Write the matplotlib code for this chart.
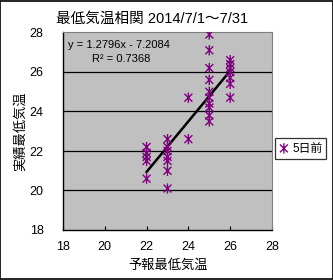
import matplotlib
matplotlib.use("Agg")
import matplotlib.pyplot as plt
from matplotlib.path import Path
from matplotlib.patches import Rectangle
import numpy as np

plt.rcParams['font.family'] = ['Liberation Sans', 'Noto Sans CJK JP', 'DejaVu Sans']

# Data: forecast min temperature (5 days before) vs actual min temperature
forecast = [22, 22, 22, 22, 22,
            23, 23, 23, 23, 23, 23, 23,
            24, 24,
            25, 25, 25, 25, 25, 25, 25, 25, 25, 25,
            26, 26, 26, 26, 26, 26, 26]
actual = [22.2, 21.9, 21.7, 21.5, 20.6,
          22.6, 22.2, 22.0, 21.7, 21.5, 21.0, 20.1,
          24.7, 22.6,
          27.9, 27.1, 26.2, 25.6, 25.0, 24.7, 24.4, 24.2, 23.8, 23.5,
          26.6, 26.4, 26.2, 26.0, 25.7, 25.4, 24.7]
slope = 1.2796
intercept = -7.2084
r2 = 0.7368
title = "最低気温相関 2014/7/1～7/31"
xlabel = "予報最低気温"
ylabel = "実績最低気温"
series_name = "5日前"
ticks = [18, 20, 22, 24, 26, 28]

# Excel-like star marker: X plus vertical line
star = Path([(-1, -1), (1, 1), (-1, 1), (1, -1), (0, -1.3), (0, 1.3)],
            [Path.MOVETO, Path.LINETO, Path.MOVETO, Path.LINETO, Path.MOVETO, Path.LINETO])

fig = plt.figure(figsize=(3.33, 2.8), dpi=100)
fig.patch.set_facecolor('white')
fig.add_artist(Rectangle((0.0015, 0.0018), 0.997, 0.9964, transform=fig.transFigure,
                         fill=False, edgecolor='black', linewidth=1.2))

ax = fig.add_axes([63/333, 1 - 230/280, (272 - 63)/333, (230 - 32.5)/280])
ax.set_facecolor('#C0C0C0')
ax.set_xlim(18, 28)
ax.set_ylim(18, 28)
ax.set_xticks(ticks)
ax.set_yticks(ticks)
for v in ticks[1:-1]:
    ax.axhline(v, color='black', linewidth=0.9, zorder=1)

ax.scatter(forecast, actual, marker=star, s=55, facecolor='none',
           edgecolor='#800080', linewidths=1.0, zorder=3, label=series_name)

xs = np.array([min(forecast), max(forecast)])
ax.plot(xs, slope * xs + intercept, color='black', linewidth=1.8, zorder=2)

ax.text(0.025, 0.935, f"y = {slope}x - {abs(intercept)}", transform=ax.transAxes,
        fontsize=8, va='center', ha='left')
ax.text(0.14, 0.865, f"R² = {r2}", transform=ax.transAxes,
        fontsize=8, va='center', ha='left')

for s in ['left', 'bottom']:
    ax.spines[s].set_color('black')
    ax.spines[s].set_linewidth(1.0)
for s in ['top', 'right']:
    ax.spines[s].set_color('#808080')
    ax.spines[s].set_linewidth(0.8)

ax.tick_params(axis='x', direction='in', length=3, width=0.8, labelsize=9, pad=8)
ax.tick_params(axis='y', length=0, labelsize=9, pad=14)

fig.text(152/333, 1 - 19/280, title, fontsize=10.5, ha='center', va='center')
fig.text(168/333, 1 - 266/280, xlabel, fontsize=9.5, ha='center', va='center')
fig.text(20/333, 1 - 131/280, ylabel, fontsize=9.5, ha='center', va='center', rotation=90)

h, l = ax.get_legend_handles_labels()
leg = fig.legend(h, l, loc='center left', bbox_to_anchor=(275/333, 1 - 148.5/280),
                 frameon=True, fancybox=False, edgecolor='black', fontsize=8.5,
                 handlelength=0.8, handletextpad=0.3, borderpad=0.35,
                 borderaxespad=0, scatterpoints=1)
leg.get_frame().set_linewidth(0.9)

fig.savefig('out.png', dpi=100, facecolor='white')
